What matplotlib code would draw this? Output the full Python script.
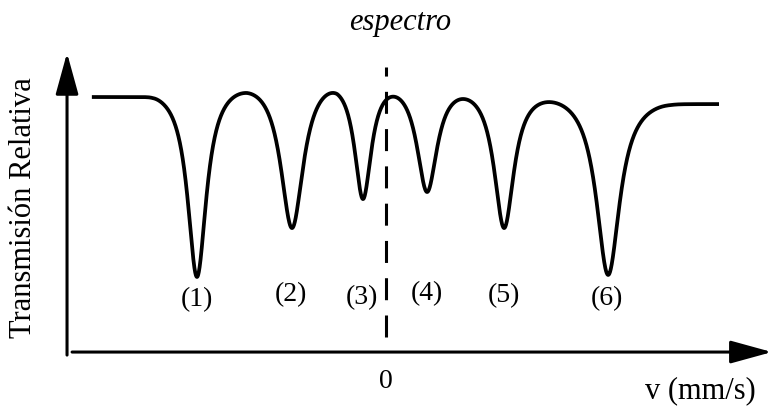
import numpy as np
import matplotlib.pyplot as plt

plt.rcParams['font.family'] = ['Liberation Serif', 'DejaVu Serif']

# absorption dips: centre (mm/s), transmission at the bottom, half width (mm/s)
dip_v = [-5.25, -2.61, -0.64, 1.14, 3.28, 6.17]
dip_T = [0.298, 0.492, 0.607, 0.635, 0.492, 0.306]
dip_w = [0.32, 0.39, 0.29, 0.35, 0.34, 0.40]

# local maxima of the curve (first / last pair = flat ends)
max_v = [-8.17, -6.50, -3.86, -1.36, 0.33, 2.11, 4.53, 7.94, 9.25]
max_T = [1.012, 1.012, 1.028, 1.024, 1.008, 1.004, 0.992, 0.984, 0.984]

# line labels
lab_text = ['(1)', '(2)', '(3)', '(4)', '(5)', '(6)']
lab_v = [-5.25, -2.64, -0.67, 1.14, 3.28, 6.14]
lab_T = [0.210, 0.226, 0.218, 0.230, 0.222, 0.214]


def lor(d, w):
    return 1.0 / (1.0 + (d / w) ** 2)


c = np.array(dip_v)
w = np.array(dip_w)
bot = np.array(dip_T)
nv = np.array(max_v[1:-1])
nT = np.array(max_T[1:-1])

# baseline through the maxima so that the summed lines hit the read levels
A = np.interp(c, nv, nT) - bot
for _ in range(60):
    Bn = nT + (A * lor(nv[:, None] - c, w)).sum(1)
    other = (A * lor(c[:, None] - c, w)).sum(1) - A
    A = np.interp(c, nv, Bn) - bot - other

v = np.linspace(max_v[0], max_v[-1], 4000)
T = np.interp(v, nv, Bn) - (A * lor(v[:, None] - c, w)).sum(1)

# flat ends, joined smoothly
s = 0.005
left = v < c[0]
T[left] = -s * np.logaddexp(-T[left] / s, -max_T[0] / s)
right = v > c[-1]
T[right] = -s * np.logaddexp(-T[right] / s, -max_T[-1] / s)

fig = plt.figure(figsize=(7.73, 4.09), dpi=100)
ax = fig.add_axes([0, 0, 1, 1])
ax.set_xlim(-10.722, 10.75)
ax.set_ylim(-0.226, 1.397)
ax.axis('off')

ax.plot(v, T, color='black', lw=2.7, solid_capstyle='butt')

# v = 0 reference
ax.plot([0, 0], [0.060, 1.131], color='black', lw=2.2, dashes=(7.2, 5.0))

# axes arrows
arrow = dict(arrowstyle='-|>,head_length=0.8,head_width=0.22', lw=2.2,
             color='black', mutation_scale=32, shrinkA=0, shrinkB=0)
ax.annotate('', xy=(-8.86, 1.187), xytext=(-8.86, -0.012), arrowprops=arrow)
ax.annotate('', xy=(10.72, 0.0), xytext=(-8.72, 0.0), arrowprops=arrow)

for t, x, y in zip(lab_text, lab_v, lab_T):
    ax.text(x, y, t, fontsize=20, ha='center', va='center')

ax.text(0.0, -0.115, '0', fontsize=20, ha='center', va='center')
ax.text(8.72, -0.155, 'v (mm/s)', fontsize=22, ha='center', va='center')
ax.text(0.39, 1.306, 'espectro', fontsize=22, style='italic',
        ha='center', va='center')
ax.text(-10.06, 0.575, 'Transmisión Relativa', fontsize=22, rotation=90,
        ha='center', va='center')

fig.savefig('out.png', dpi=100)
